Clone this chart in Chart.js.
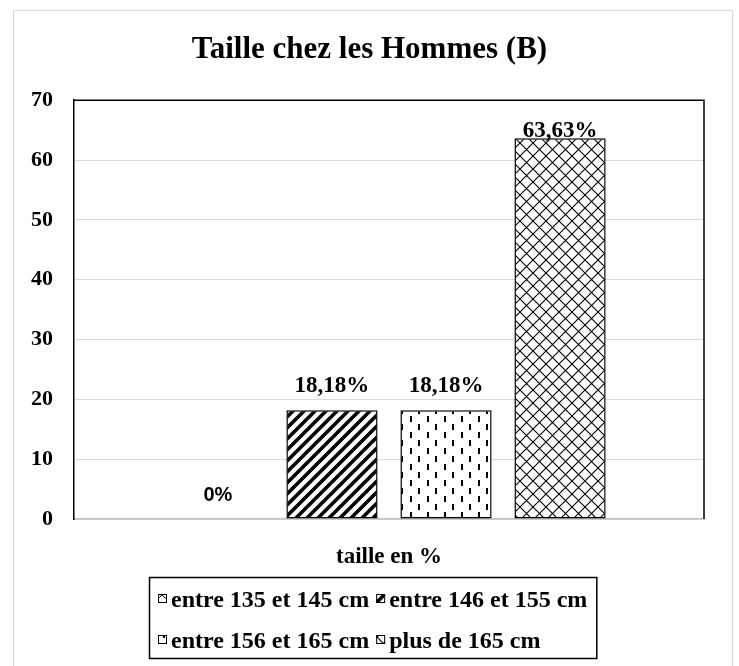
<!DOCTYPE html>
<html lang="fr">
<head>
    <meta charset="UTF-8">
    <title>Taille chez les Hommes (B)</title>
    <script src="https://cdn.jsdelivr.net/npm/chart.js"></script>
    <style>
        html, body { margin: 0; padding: 0; background: #fff; }
        #wrap { width: 739px; height: 666px; position: relative; }
    </style>
</head>
<body>
    <div id="wrap">
        <canvas id="tailleChart"></canvas>
    </div>

    <script>
        // data
        const categories = ['taille en %'];
        const seriesNames = ['entre 135 et 145 cm', 'entre 146 et 155 cm', 'entre 156 et 165 cm', 'plus de 165 cm'];
        const seriesValues = [0, 18.18, 18.18, 63.63];
        const valueLabels = ['0%', '18,18%', '18,18%', '63,63%'];
        const yMin = 0;
        const yMax = 70;
        const yStep = 10;

        const serif = "'Times New Roman', 'Liberation Serif', serif";
        const sans = "Arial, 'Liberation Sans', sans-serif";

        function makeTile(w, h, draw) {
            const c = document.createElement('canvas');
            c.width = w;
            c.height = h;
            const g = c.getContext('2d');
            g.fillStyle = '#fff';
            g.fillRect(0, 0, w, h);
            g.strokeStyle = '#000';
            g.fillStyle = '#000';
            draw(g, w, h);
            return document.createElement('canvas').getContext('2d').createPattern(c, 'repeat');
        }

        // hatch fills like the office patterns
        const patterns = [
            // small waves
            makeTile(8, 8, (g) => {
                g.lineWidth = 1;
                g.beginPath();
                g.moveTo(0, 5);
                g.quadraticCurveTo(2, 1, 4, 5);
                g.quadraticCurveTo(6, 8, 8, 5);
                g.stroke();
            }),
            // wide upward diagonal
            makeTile(11, 11, (g, w, h) => {
                g.lineWidth = 3.6;
                g.lineCap = 'square';
                g.beginPath();
                g.moveTo(-2, h + 2); g.lineTo(w + 2, -2);
                g.moveTo(-2, 2); g.lineTo(2, -2);
                g.moveTo(w - 2, h + 2); g.lineTo(w + 2, h - 2);
                g.stroke();
            }),
            // dashed vertical
            makeTile(17, 16, (g) => {
                g.fillRect(2, 0, 2, 6);
                g.fillRect(10, 8, 2, 6);
            }),
            // diamond grid
            makeTile(13, 13, (g, w, h) => {
                g.lineWidth = 1.1;
                g.beginPath();
                g.moveTo(0, 0); g.lineTo(w, h);
                g.moveTo(w, 0); g.lineTo(0, h);
                g.stroke();
            })
        ];

        const datasets = seriesNames.map((name, i) => ({
            label: name,
            data: [seriesValues[i]],
            backgroundColor: patterns[i],
            borderColor: '#000',
            borderWidth: 1.5,
            borderSkipped: false
        }));

        // grey outer frame of the chart object
        const frame = {
            id: 'frame',
            beforeDraw(chart) {
                const ctx = chart.ctx;
                ctx.save();
                ctx.fillStyle = '#fff';
                ctx.fillRect(0, 0, chart.width, chart.height);
                ctx.strokeStyle = '#d9d9d9';
                ctx.lineWidth = 1;
                ctx.strokeRect(13.5, 10.5, 719, 700);
                ctx.restore();
            },
            afterDraw(chart) {
                const a = chart.chartArea;
                const ctx = chart.ctx;
                ctx.save();
                ctx.strokeStyle = '#000';
                ctx.lineWidth = 1.5;
                ctx.beginPath();
                ctx.moveTo(a.left, a.top);
                ctx.lineTo(a.right, a.top);
                ctx.lineTo(a.right, a.bottom);
                ctx.stroke();
                ctx.restore();
            }
        };

        // value labels above the bars
        const barLabels = {
            id: 'barLabels',
            afterDatasetsDraw(chart) {
                const ctx = chart.ctx;
                ctx.save();
                ctx.textAlign = 'center';
                ctx.textBaseline = 'middle';
                ctx.fillStyle = '#000';
                chart.data.datasets.forEach((ds, i) => {
                    const bar = chart.getDatasetMeta(i).data[0];
                    const y = Math.max(bar.y - 24, chart.chartArea.top + 31);
                    ctx.font = seriesValues[i] === 0 ? 'bold 20px ' + sans : 'bold 23px ' + serif;
                    ctx.fillText(valueLabels[i], bar.x, y);
                });
                ctx.restore();
            }
        };

        // boxed legend, two entries per row
        const legendBox = {
            id: 'legendBox',
            afterDraw(chart) {
                const ctx = chart.ctx;
                const sets = chart.data.datasets;
                const icon = 9, gap = 4, colGap = 7, padX = 9;
                ctx.save();
                ctx.font = 'bold 24px ' + serif;
                const colW = [0, 0];
                sets.forEach((ds, i) => {
                    const w = icon + gap + ctx.measureText(ds.label).width;
                    colW[i % 2] = Math.max(colW[i % 2], w);
                });
                const boxW = padX * 2 + colW[0] + colGap + colW[1];
                const left = Math.round(373 - boxW / 2);
                const top = chart.scales.x.bottom;
                const bottom = chart.height - 8;

                ctx.strokeStyle = '#000';
                ctx.lineWidth = 1.5;
                ctx.strokeRect(left + 0.5, top + 0.5, boxW, bottom - top);

                ctx.textBaseline = 'middle';
                ctx.textAlign = 'left';
                sets.forEach((ds, i) => {
                    const col = i % 2;
                    const row = Math.floor(i / 2);
                    const x = left + padX + (col ? colW[0] + colGap : 0);
                    const y = top + 24 + row * 41;
                    ctx.fillStyle = ds.backgroundColor;
                    ctx.fillRect(x, y - 7, icon, icon);
                    ctx.lineWidth = 1;
                    ctx.strokeRect(x + 0.5, y - 6.5, icon - 1, icon - 1);
                    ctx.fillStyle = '#000';
                    ctx.fillText(ds.label, x + icon + gap, y);
                });
                ctx.restore();
            }
        };

        new Chart(document.getElementById('tailleChart'), {
            type: 'bar',
            data: {
                labels: categories,
                datasets: datasets
            },
            options: {
                responsive: true,
                maintainAspectRatio: false,
                animation: false,
                categoryPercentage: 0.724,
                barPercentage: 0.8,
                layout: {
                    padding: { left: 0, right: 0, top: 0, bottom: 89 }
                },
                plugins: {
                    legend: { display: false },
                    tooltip: { enabled: false },
                    title: {
                        display: true,
                        text: 'Taille chez les Hommes (B)',
                        color: '#000',
                        font: { family: serif, size: 31, weight: 'bold' },
                        padding: { top: 31, bottom: 32 }
                    }
                },
                scales: {
                    x: {
                        grid: { display: false },
                        border: { color: '#bfbfbf', width: 1.5 },
                        ticks: {
                            color: '#000',
                            padding: 16,
                            font: { family: serif, size: 23, weight: 'bold' }
                        },
                        afterFit(s) { s.height = 58; }
                    },
                    y: {
                        min: yMin,
                        max: yMax,
                        ticks: {
                            stepSize: yStep,
                            color: '#000',
                            padding: 21,
                            font: { family: serif, size: 22, weight: 'bold' }
                        },
                        grid: { color: '#d9d9d9', lineWidth: 1, drawTicks: false },
                        border: { color: '#000', width: 1.5 },
                        afterFit(s) { s.width = 74; }
                    },
                    // empty right-hand axis, only keeps the margin on the right
                    yRight: {
                        position: 'right',
                        min: yMin,
                        max: yMax,
                        ticks: { display: false },
                        grid: { display: false, drawTicks: false },
                        border: { display: false },
                        afterFit(s) { s.width = 35; }
                    }
                }
            },
            plugins: [frame, barLabels, legendBox]
        });
    </script>
</body>
</html>
